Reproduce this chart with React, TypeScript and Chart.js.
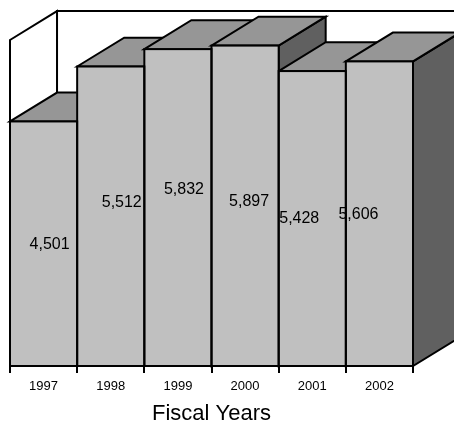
import React, { useEffect, useRef } from "react";
import { Chart, registerables } from "chart.js";

Chart.register(...registerables);

const categories = ["1997", "1998", "1999", "2000", "2001", "2002"];
const values = [4501, 5512, 5832, 5897, 5428, 5606];
const axisMax = 6000;
const axisTitle = "Fiscal Years";

// small manual nudges of the value labels (pixels), as placed in the original
const labelNudgeX = [6, 11, 6, 4, -13, -21];
const labelNudgeY = [1, -14, -18, -4, 0, 1];

const FONT = "'Liberation Sans', Arial, sans-serif";
const FRONT = "#C0C0C0";
const TOP = "#969696";
const SIDE = "#606060";

const depthX = 0.7; // fraction of bar width
const depthY = 0.43;

function poly(ctx: CanvasRenderingContext2D, pts: number[][], fill: string | null) {
  ctx.beginPath();
  ctx.moveTo(pts[0][0], pts[0][1]);
  for (let i = 1; i < pts.length; i++) ctx.lineTo(pts[i][0], pts[i][1]);
  ctx.closePath();
  if (fill) {
    ctx.fillStyle = fill;
    ctx.fill();
  }
  ctx.stroke();
}

const bar3d = {
  id: "bar3d",
  beforeDatasetsDraw(chart: any) {
    const ctx: CanvasRenderingContext2D = chart.ctx;
    const meta = chart.getDatasetMeta(0);
    const els = meta.data;
    const w = els[0].width;
    const dx = w * depthX;
    const dy = w * depthY;
    const ys = chart.scales.y;
    const xs = chart.scales.x;
    const top = ys.getPixelForValue(axisMax);
    const base = ys.getPixelForValue(0);
    const left = xs.left;
    const right = xs.right;
    ctx.save();
    ctx.strokeStyle = "#000";
    ctx.lineWidth = 2;
    ctx.lineJoin = "miter";
    poly(ctx, [
      [left + dx, top - dy],
      [right + dx, top - dy],
      [right + dx, base - dy],
      [left + dx, base - dy],
    ], "#fff");
    poly(ctx, [
      [left, top],
      [left + dx, top - dy],
      [left + dx, base - dy],
      [left, base],
    ], "#fff");
    for (let i = 0; i < els.length; i++) {
      const el = els[i];
      const l = el.x - el.width / 2;
      const r = el.x + el.width / 2;
      const t = el.y;
      const b = el.base;
      poly(ctx, [
        [r, t],
        [r + dx, t - dy],
        [r + dx, b - dy],
        [r, b],
      ], SIDE);
      poly(ctx, [
        [l, t],
        [l + dx, t - dy],
        [r + dx, t - dy],
        [r, t],
      ], TOP);
    }
    ctx.restore();
  },
  afterDatasetsDraw(chart: any) {
    const ctx: CanvasRenderingContext2D = chart.ctx;
    const els = chart.getDatasetMeta(0).data;
    ctx.save();
    ctx.strokeStyle = "#000";
    ctx.lineWidth = 2;
    for (let i = 0; i < els.length; i++) {
      const el = els[i];
      const l = el.x - el.width / 2;
      ctx.strokeRect(l, el.y, el.width, el.base - el.y);
    }
    ctx.fillStyle = "#000";
    ctx.font = `16px ${FONT}`;
    ctx.textAlign = "center";
    ctx.textBaseline = "middle";
    for (let i = 0; i < els.length; i++) {
      const el = els[i];
      ctx.fillText(
        values[i].toLocaleString("en-US"),
        el.x + labelNudgeX[i],
        (el.y + el.base) / 2 + labelNudgeY[i]
      );
    }
    ctx.restore();
  },
};

export default function App() {
  const ref = useRef<HTMLCanvasElement | null>(null);
  useEffect(() => {
    if (!ref.current) return;
    const chart = new Chart(ref.current, {
      type: "bar",
      data: {
        labels: categories,
        datasets: [
          {
            data: values,
            backgroundColor: FRONT,
            borderWidth: 0,
            categoryPercentage: 1,
            barPercentage: 1,
          },
        ],
      },
      options: {
        animation: false,
        responsive: false,
        events: [],
        layout: { padding: { left: 10, right: 41, top: 40, bottom: 0 } },
        plugins: { legend: { display: false }, tooltip: { enabled: false }, title: { display: false } },
        scales: {
          y: { display: false, min: 0, max: axisMax },
          x: {
            afterFit: (s: any) => {
              s.height = 62;
            },
            grid: {
              display: true,
              drawOnChartArea: false,
              drawTicks: true,
              tickLength: 7,
              offset: true,
              color: "#000",
              tickColor: "#000",
              lineWidth: 2,
            },
            border: { display: true, color: "#000", width: 2 },
            ticks: { color: "#000", font: { family: FONT, size: 13 }, padding: 6, maxRotation: 0 },
            title: {
              display: true,
              text: axisTitle,
              color: "#000",
              font: { family: FONT, size: 22 },
              padding: { top: 0, bottom: 1 },
            },
          },
        },
      },
      plugins: [bar3d],
    });
    return () => chart.destroy();
  }, []);
  return (
    <div style={{ position: "absolute", left: 0, top: 0, width: 454, height: 428, background: "#fff" }}>
      <canvas ref={ref} width={454} height={428} style={{ display: "block", width: 454, height: 428 }} />
    </div>
  );
}
